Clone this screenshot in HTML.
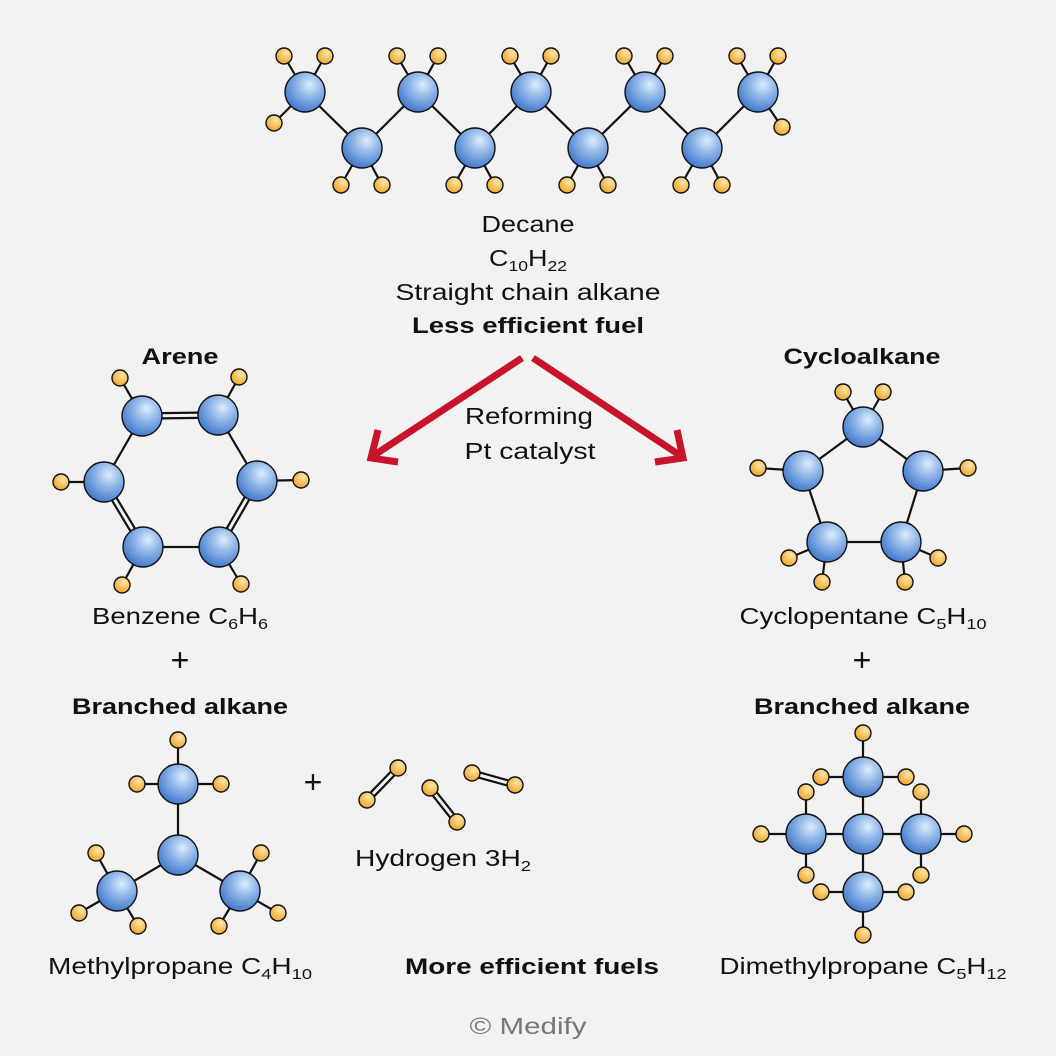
<!DOCTYPE html>
<html><head><meta charset="utf-8"><style>
html,body{margin:0;padding:0;background:#f2f2f2;}
svg{display:block;}
text{font-family:"Liberation Sans",sans-serif;font-size:23px;fill:#111;}
.b{font-weight:bold;font-size:22px;}
.s{font-size:15px;}
.p{font-size:32px;}
</style></head><body>
<svg width="1056" height="1056" viewBox="0 0 1056 1056" xmlns="http://www.w3.org/2000/svg">
<defs>
<radialGradient id="gc" cx="0.62" cy="0.32" r="0.7">
<stop offset="0" stop-color="#dcecfb"/><stop offset="0.45" stop-color="#8fb6e8"/><stop offset="1" stop-color="#4279cc"/>
</radialGradient>
<radialGradient id="gh" cx="0.62" cy="0.32" r="0.7">
<stop offset="0" stop-color="#fde6a8"/><stop offset="1" stop-color="#eea52a"/>
</radialGradient>
</defs>
<rect width="1056" height="1056" fill="#f2f2f2"/>
<g stroke="#111" stroke-width="2.2" fill="none" id="bonds"></g>
<g id="atoms"></g>

<g stroke="#c8132c" stroke-width="7" fill="none">
<line x1="522" y1="358" x2="373" y2="456"/>
<polyline points="378,430 371,458 398,462"/>
<line x1="533" y1="358" x2="681" y2="456"/>
<polyline points="677,430 683,458 655,462"/>
</g>

<text x="528" y="232" text-anchor="middle" textLength="93" lengthAdjust="spacingAndGlyphs">Decane</text>
<text x="528" y="266" text-anchor="middle" textLength="78" lengthAdjust="spacingAndGlyphs">C<tspan class="s" dy="5">10</tspan><tspan dy="-5">H</tspan><tspan class="s" dy="5">22</tspan></text>
<text x="528" y="300" text-anchor="middle" textLength="265" lengthAdjust="spacingAndGlyphs">Straight chain alkane</text>
<text x="528" y="333" text-anchor="middle" class="b" textLength="232" lengthAdjust="spacingAndGlyphs">Less efficient fuel</text>
<text x="180" y="364" text-anchor="middle" class="b" textLength="77" lengthAdjust="spacingAndGlyphs">Arene</text>
<text x="862" y="364" text-anchor="middle" class="b" textLength="157" lengthAdjust="spacingAndGlyphs">Cycloalkane</text>
<text x="529" y="424" text-anchor="middle" textLength="128" lengthAdjust="spacingAndGlyphs">Reforming</text>
<text x="530" y="459" text-anchor="middle" textLength="131" lengthAdjust="spacingAndGlyphs">Pt catalyst</text>
<text x="180" y="624" text-anchor="middle" textLength="176" lengthAdjust="spacingAndGlyphs">Benzene C<tspan class="s" dy="5">6</tspan><tspan dy="-5">H</tspan><tspan class="s" dy="5">6</tspan></text>
<text x="863" y="624" text-anchor="middle" textLength="247" lengthAdjust="spacingAndGlyphs">Cyclopentane C<tspan class="s" dy="5">5</tspan><tspan dy="-5">H</tspan><tspan class="s" dy="5">10</tspan></text>
<text x="180" y="671" text-anchor="middle" class="p">+</text>
<text x="862" y="671" text-anchor="middle" class="p">+</text>
<text x="313" y="793" text-anchor="middle" class="p">+</text>
<text x="180" y="714" text-anchor="middle" class="b" textLength="216" lengthAdjust="spacingAndGlyphs">Branched alkane</text>
<text x="862" y="714" text-anchor="middle" class="b" textLength="216" lengthAdjust="spacingAndGlyphs">Branched alkane</text>
<text x="443" y="866" text-anchor="middle" textLength="176" lengthAdjust="spacingAndGlyphs">Hydrogen 3H<tspan class="s" dy="5">2</tspan></text>
<text x="180" y="974" text-anchor="middle" textLength="264" lengthAdjust="spacingAndGlyphs">Methylpropane C<tspan class="s" dy="5">4</tspan><tspan dy="-5">H</tspan><tspan class="s" dy="5">10</tspan></text>
<text x="532" y="974" text-anchor="middle" class="b" textLength="254" lengthAdjust="spacingAndGlyphs">More efficient fuels</text>
<text x="863" y="974" text-anchor="middle" textLength="287" lengthAdjust="spacingAndGlyphs">Dimethylpropane C<tspan class="s" dy="5">5</tspan><tspan dy="-5">H</tspan><tspan class="s" dy="5">12</tspan></text>
<text x="528" y="1034" text-anchor="middle" style="fill:#777" textLength="117" lengthAdjust="spacingAndGlyphs">© Medify</text>
</svg>
<script>
(function(){
var NS="http://www.w3.org/2000/svg";
var B=document.getElementById("bonds"),A=document.getElementById("atoms");
function ln(a,b){var l=document.createElementNS(NS,"line");l.setAttribute("x1",a[0]);l.setAttribute("y1",a[1]);l.setAttribute("x2",b[0]);l.setAttribute("y2",b[1]);B.appendChild(l);}
function dbl(a,b){var dx=b[0]-a[0],dy=b[1]-a[1],L=Math.hypot(dx,dy),nx=-dy/L*2.6,ny=dx/L*2.6;
ln([a[0]+nx,a[1]+ny],[b[0]+nx,b[1]+ny]);ln([a[0]-nx,a[1]-ny],[b[0]-nx,b[1]-ny]);}
function at(p,r,g){var c=document.createElementNS(NS,"circle");c.setAttribute("cx",p[0]);c.setAttribute("cy",p[1]);c.setAttribute("r",r);c.setAttribute("fill","url(#"+g+")");c.setAttribute("stroke","#111");c.setAttribute("stroke-width","1.4");A.appendChild(c);}
function C(p){at(p,20,"gc");} function H(p){at(p,8,"gh");}
function mol(cs,hs,cb,hb,db){
 (cb||[]).forEach(function(e){ln(cs[e[0]],cs[e[1]]);});
 (db||[]).forEach(function(e){dbl(cs[e[0]],cs[e[1]]);});
 hb.forEach(function(e){ln(cs[e[0]],hs[e[1]]);});
 hs.forEach(H);cs.forEach(C);}
var tx=[305,418,531,645,758],bx=[362,475,588,702],cs=[],hs=[],cb=[],hb=[];
for(var i=0;i<9;i++){cs.push(i%2==0?[tx[i/2],92]:[bx[(i-1)/2],148]);if(i>0)cb.push([i-1,i]);}
for(var i=0;i<9;i++){var c=cs[i];
 if(i%2==0){hs.push([c[0]-21,c[1]-36]);hb.push([i,hs.length-1]);hs.push([c[0]+20,c[1]-36]);hb.push([i,hs.length-1]);}
 else{hs.push([c[0]-21,c[1]+37]);hb.push([i,hs.length-1]);hs.push([c[0]+20,c[1]+37]);hb.push([i,hs.length-1]);}}
hs.push([274,123]);hb.push([0,hs.length-1]);hs.push([782,127]);hb.push([8,hs.length-1]);
mol(cs,hs,cb,hb);
mol([[142,416],[218,415],[104,482],[257,481],[143,547],[219,547]],
 [[120,378],[239,377],[61,482],[301,480],[122,585],[241,584]],
 [[0,2],[1,3],[4,5]],[[0,0],[1,1],[2,2],[3,3],[4,4],[5,5]],[[0,1],[2,4],[3,5]]);
mol([[863,427],[803,471],[923,471],[827,542],[901,542]],
 [[843,392],[883,392],[758,468],[968,468],[789,558],[822,582],[905,582],[938,558]],
 [[0,1],[0,2],[1,3],[2,4],[3,4]],[[0,0],[0,1],[1,2],[2,3],[3,4],[3,5],[4,6],[4,7]]);
mol([[178,784],[178,855],[117,891],[240,891]],
 [[178,740],[137,784],[221,784],[96,853],[79,913],[138,926],[261,853],[278,913],[219,926]],
 [[0,1],[1,2],[1,3]],[[0,0],[0,1],[0,2],[2,3],[2,4],[2,5],[3,6],[3,7],[3,8]]);
mol([[863,777],[806,834],[863,834],[921,834],[863,892]],
 [[863,733],[821,777],[906,777],[806,792],[921,792],[761,834],[964,834],[806,875],[921,875],[821,892],[906,892],[863,935]],
 [[0,2],[1,2],[2,3],[2,4]],[[0,0],[0,1],[0,2],[1,3],[3,4],[1,5],[3,6],[1,7],[3,8],[4,9],[4,10],[4,11]]);
[[[367,800],[398,768]],[[430,788],[457,822]],[[472,773],[515,785]]].forEach(function(p){dbl(p[0],p[1]);H(p[0]);H(p[1]);});
})();
</script>
</body></html>
